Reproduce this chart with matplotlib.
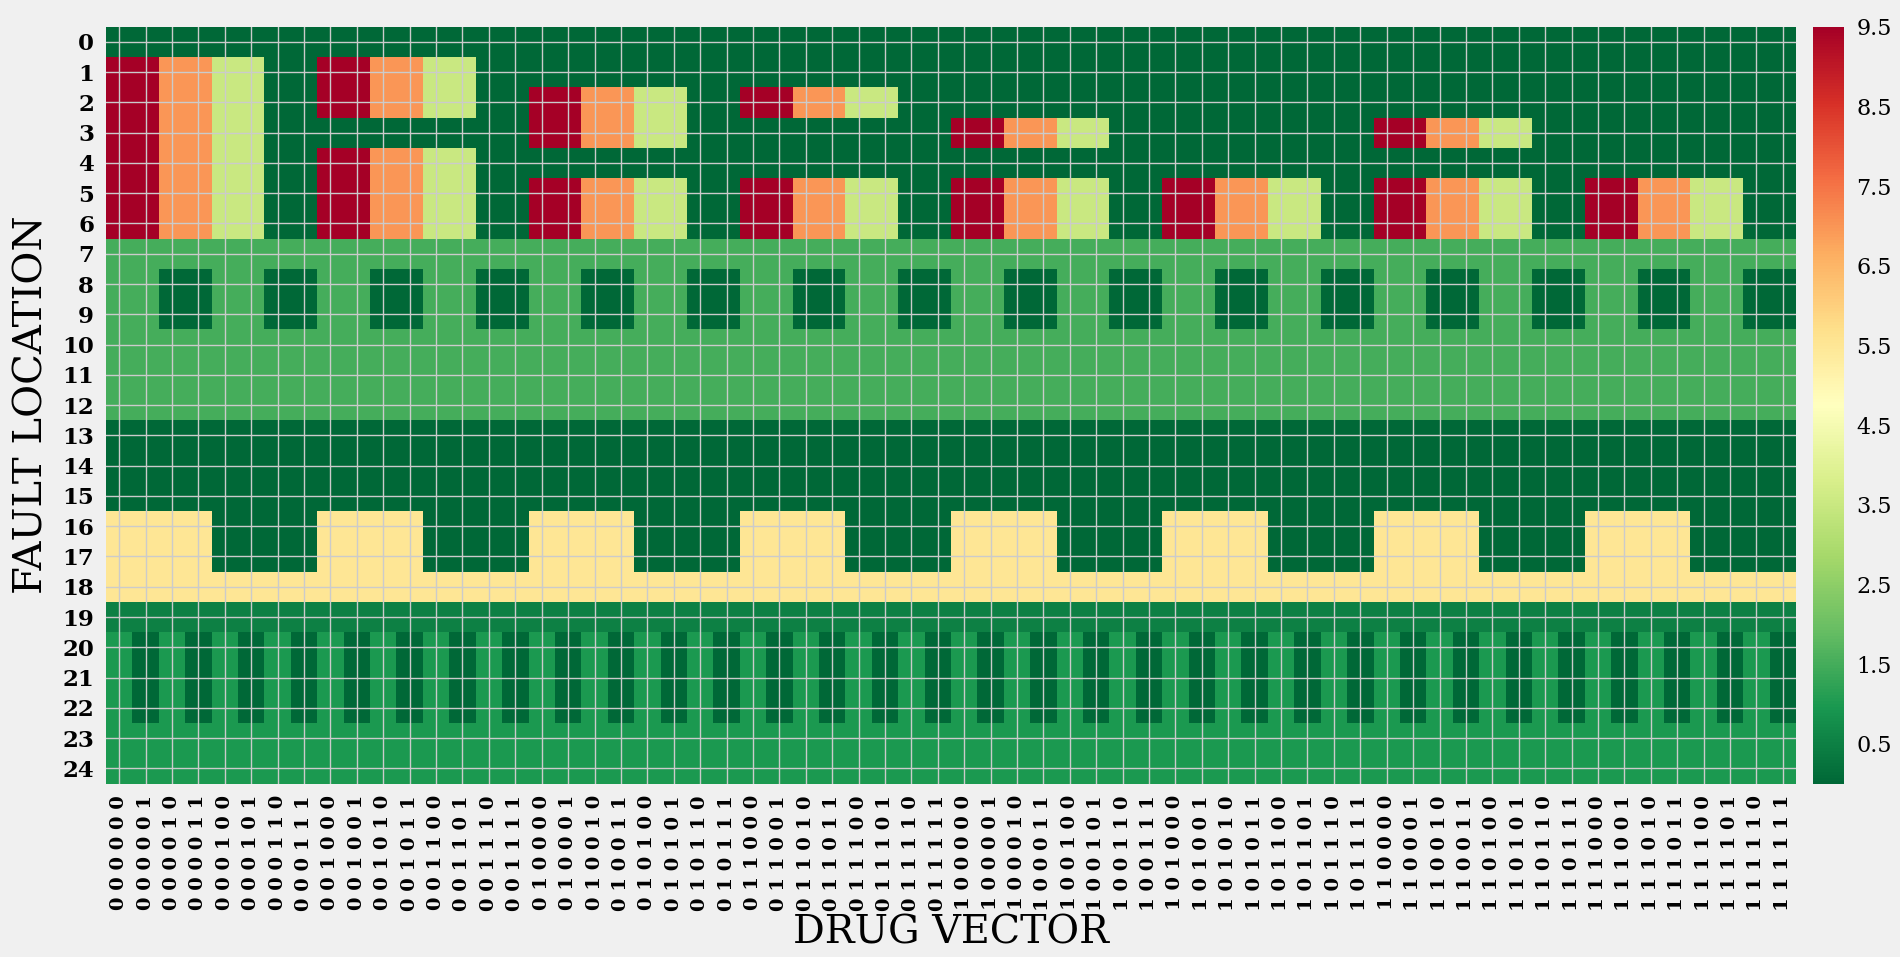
import numpy as np
import matplotlib
matplotlib.use("Agg")
import matplotlib.pyplot as plt

# value codes
LEVELS = {"0": 0.0, "a": 0.5, "b": 1.0, "c": 1.5, "L": 3.5, "Y": 5.5, "O": 7.0, "R": 9.5}

# one string per fault location (row), 64 drug-vector columns (spaces are only for readability)
ROWS = [
    "00000000 00000000 00000000 00000000 00000000 00000000 00000000 00000000",  # 0
    "RROOLL00 RROOLL00 00000000 00000000 00000000 00000000 00000000 00000000",  # 1
    "RROOLL00 RROOLL00 RROOLL00 RROOLL00 00000000 00000000 00000000 00000000",  # 2
    "RROOLL00 00000000 RROOLL00 00000000 RROOLL00 00000000 RROOLL00 00000000",  # 3
    "RROOLL00 RROOLL00 00000000 00000000 00000000 00000000 00000000 00000000",  # 4
    "RROOLL00 RROOLL00 RROOLL00 RROOLL00 RROOLL00 RROOLL00 RROOLL00 RROOLL00",  # 5
    "RROOLL00 RROOLL00 RROOLL00 RROOLL00 RROOLL00 RROOLL00 RROOLL00 RROOLL00",  # 6
    "cccccccc cccccccc cccccccc cccccccc cccccccc cccccccc cccccccc cccccccc",  # 7
    "cc00cc00 cc00cc00 cc00cc00 cc00cc00 cc00cc00 cc00cc00 cc00cc00 cc00cc00",  # 8
    "cc00cc00 cc00cc00 cc00cc00 cc00cc00 cc00cc00 cc00cc00 cc00cc00 cc00cc00",  # 9
    "cccccccc cccccccc cccccccc cccccccc cccccccc cccccccc cccccccc cccccccc",  # 10
    "cccccccc cccccccc cccccccc cccccccc cccccccc cccccccc cccccccc cccccccc",  # 11
    "cccccccc cccccccc cccccccc cccccccc cccccccc cccccccc cccccccc cccccccc",  # 12
    "00000000 00000000 00000000 00000000 00000000 00000000 00000000 00000000",  # 13
    "00000000 00000000 00000000 00000000 00000000 00000000 00000000 00000000",  # 14
    "00000000 00000000 00000000 00000000 00000000 00000000 00000000 00000000",  # 15
    "YYYY0000 YYYY0000 YYYY0000 YYYY0000 YYYY0000 YYYY0000 YYYY0000 YYYY0000",  # 16
    "YYYY0000 YYYY0000 YYYY0000 YYYY0000 YYYY0000 YYYY0000 YYYY0000 YYYY0000",  # 17
    "YYYYYYYY YYYYYYYY YYYYYYYY YYYYYYYY YYYYYYYY YYYYYYYY YYYYYYYY YYYYYYYY",  # 18
    "aaaaaaaa aaaaaaaa aaaaaaaa aaaaaaaa aaaaaaaa aaaaaaaa aaaaaaaa aaaaaaaa",  # 19
    "b0b0b0b0 b0b0b0b0 b0b0b0b0 b0b0b0b0 b0b0b0b0 b0b0b0b0 b0b0b0b0 b0b0b0b0",  # 20
    "b0b0b0b0 b0b0b0b0 b0b0b0b0 b0b0b0b0 b0b0b0b0 b0b0b0b0 b0b0b0b0 b0b0b0b0",  # 21
    "b0b0b0b0 b0b0b0b0 b0b0b0b0 b0b0b0b0 b0b0b0b0 b0b0b0b0 b0b0b0b0 b0b0b0b0",  # 22
    "bbbbbbbb bbbbbbbb bbbbbbbb bbbbbbbb bbbbbbbb bbbbbbbb bbbbbbbb bbbbbbbb",  # 23
    "bbbbbbbb bbbbbbbb bbbbbbbb bbbbbbbb bbbbbbbb bbbbbbbb bbbbbbbb bbbbbbbb",  # 24
]

Y_LABELS = ["0", "1", "2", "3", "4", "5", "6", "7", "8", "9", "10", "11", "12",
            "13", "14", "15", "16", "17", "18", "19", "20", "21", "22", "23", "24"]

X_CODES = [
    "000000", "000001", "000010", "000011", "000100", "000101", "000110", "000111",
    "001000", "001001", "001010", "001011", "001100", "001101", "001110", "001111",
    "010000", "010001", "010010", "010011", "010100", "010101", "010110", "010111",
    "011000", "011001", "011010", "011011", "011100", "011101", "011110", "011111",
    "100000", "100001", "100010", "100011", "100100", "100101", "100110", "100111",
    "101000", "101001", "101010", "101011", "101100", "101101", "101110", "101111",
    "110000", "110001", "110010", "110011", "110100", "110101", "110110", "110111",
    "111000", "111001", "111010", "111011", "111100", "111101", "111110", "111111",
]

CBAR_TICKS = [0.5, 1.5, 2.5, 3.5, 4.5, 5.5, 6.5, 7.5, 8.5, 9.5]

data = np.array([[LEVELS[ch] for ch in row.replace(" ", "")] for row in ROWS])
x_labels = [" ".join(code) for code in X_CODES]

W, H = 1900, 957
fig = plt.figure(figsize=(W / 100, H / 100), dpi=100, facecolor="#f0f0f0")

left, right, top, bottom = 106, 1796, 26.7, 783.5
ax = fig.add_axes([left / W, 1 - bottom / H, (right - left) / W, (bottom - top) / H])
cax = fig.add_axes([1813.3 / W, 1 - bottom / H, (1844 - 1813.3) / W, (bottom - top) / H])

mesh = ax.pcolormesh(data, cmap="RdYlGn_r", vmin=0, vmax=9.5)
ax.set_xlim(0, data.shape[1])
ax.set_ylim(data.shape[0], 0)
for s in ax.spines.values():
    s.set_visible(False)

ax.set_xticks(np.arange(data.shape[1]) + 0.5)
ax.set_xticklabels(x_labels, rotation=90, family="DejaVu Serif", fontweight="bold", fontsize=14)
ax.set_yticks(np.arange(data.shape[0]) + 0.5)
ax.set_yticklabels(Y_LABELS, family="DejaVu Serif", fontweight="bold", fontsize=16.5)
ax.tick_params(axis="x", length=0, pad=8.3)
ax.tick_params(axis="y", length=0, pad=8.6)

ax.set_axisbelow(False)
ax.grid(True, color="#cbcbcb", linewidth=1.0)

cb = fig.colorbar(mesh, cax=cax, ticks=CBAR_TICKS)
cb.outline.set_visible(False)
cax.tick_params(length=0, pad=9.0)
for t in cax.get_yticklabels():
    t.set_family("DejaVu Serif")
    t.set_fontsize(16)

fig.text(951 / W, 1 - 943.3 / H, "DRUG VECTOR", ha="center", va="baseline",
         family="DejaVu Serif", fontsize=28.5)
fig.text(43 / W, 1 - 405 / H, "FAULT LOCATION", ha="center", va="baseline",
         rotation=90, rotation_mode="anchor", family="DejaVu Serif", fontsize=29)

fig.savefig("out.png", dpi=100, facecolor="#f0f0f0")
